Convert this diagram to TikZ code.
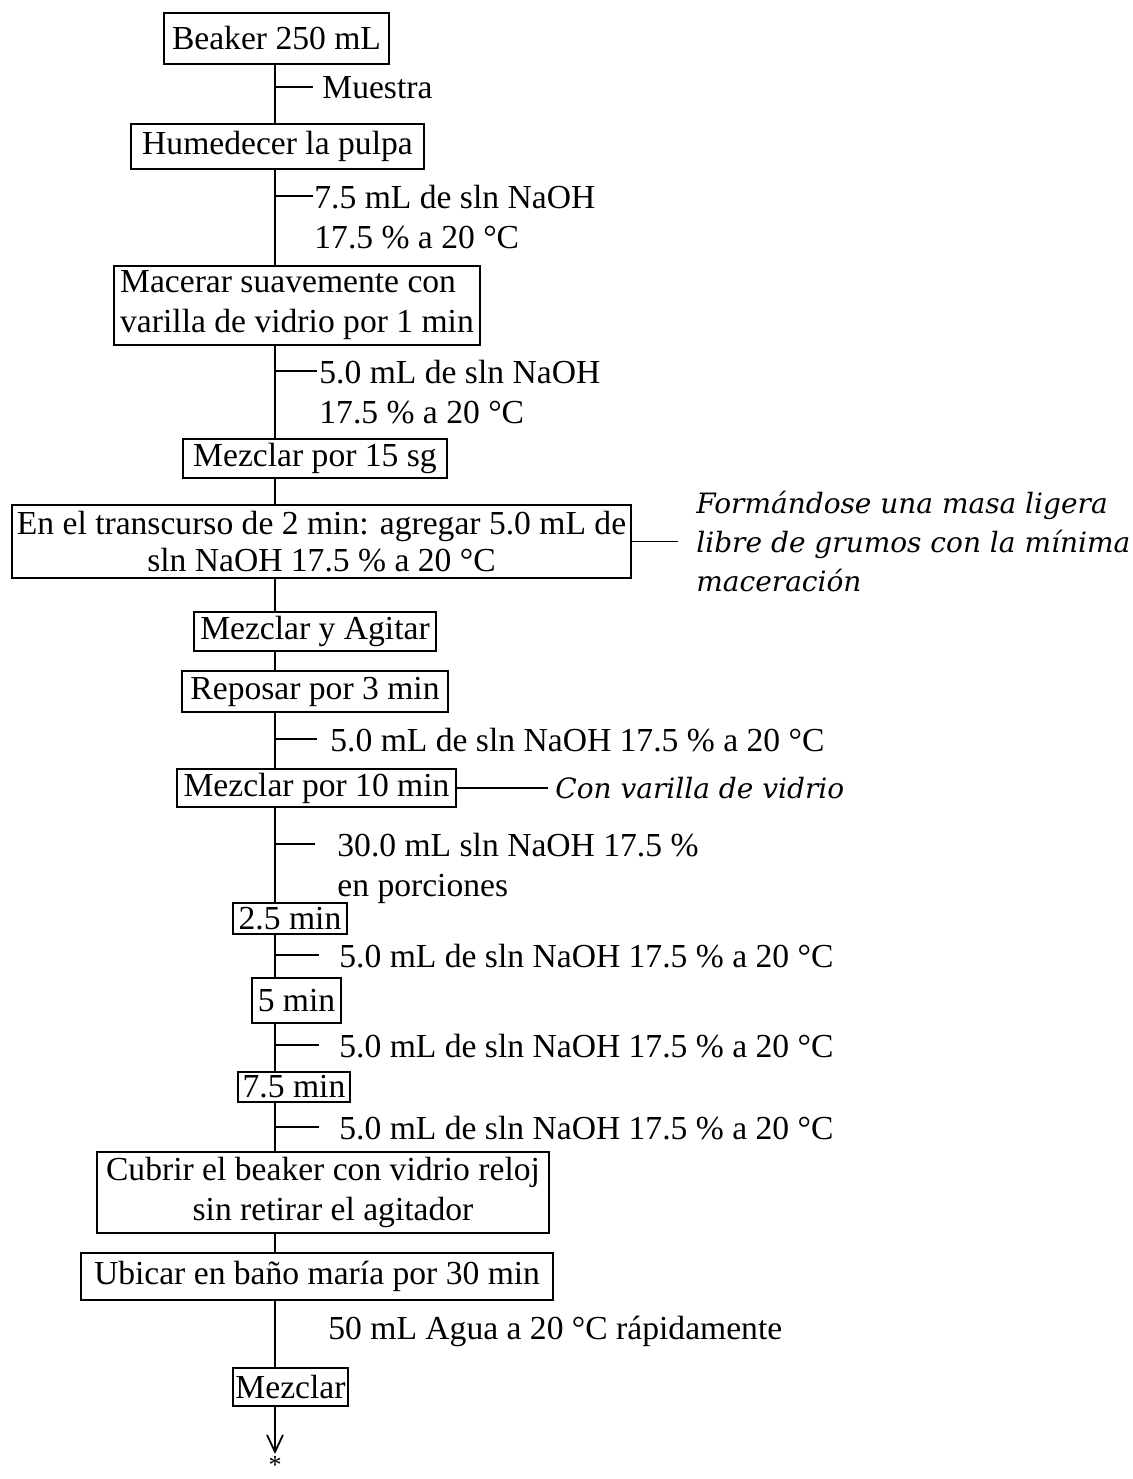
\documentclass[tikz,border=0pt]{standalone}
\usepackage{fontspec}
\setmainfont{Liberation Serif}
\newfontfamily\notefont{DejaVu Serif}
\usetikzlibrary{arrows.meta, positioning}

\begin{document}
\begin{tikzpicture}[
  font=\fontsize{16.8pt}{20pt}\selectfont,
  box/.style={
    rectangle, draw, line width=0.9pt,
    inner sep=0pt, outer sep=0pt, align=center
  },
  reagent/.style={inner ysep=0pt, inner xsep=0pt, align=left},
  note/.style={
    font=\notefont\itshape\fontsize{14pt}{19.5pt}\selectfont,
    align=left, inner ysep=0pt
  },
  link/.style={line width=0.9pt},
  endarrow/.style={-{Straight Barb[length=8.5pt, width=8pt]}, line width=0.9pt}
]
\useasboundingbox (0,0) rectangle (566.5pt,-739.5pt);

% ── Main sequence ──
\node[box, minimum width=112.5pt, minimum height=25.5pt] (beaker) at (138.25pt,-19.25pt) {Beaker 250 mL};
\coordinate (spine) at (137.5pt,0);

\node[box, minimum width=146.5pt, minimum height=22.5pt, below=30pt of beaker, xshift=0.5pt] (humedecer) {Humedecer la pulpa};
\node[box, align=left, minimum width=183pt, minimum height=39.5pt, below=48.5pt of humedecer, xshift=9.75pt] (macerar) {Macerar suavemente con\\varilla de vidrio por 1 min};
\node[box, minimum width=132pt, minimum height=19.5pt, below=47pt of macerar, xshift=9pt] (mezclarA) {Mezclar por 15 sg};
\node[box, minimum width=309.5pt, minimum height=36.5pt, below=13.5pt of mezclarA, xshift=3.25pt,
  font=\fontsize{16.8pt}{18.5pt}\selectfont] (transcurso) {En el transcurso de 2 min: agregar 5.0 mL de\\sln NaOH 17.5 \% a 20 °C};
\node[box, minimum width=121pt, minimum height=19.5pt, below=17pt of transcurso, xshift=-3.25pt] (agitar) {Mezclar y Agitar};
\node[box, minimum width=133pt, minimum height=20.5pt, below=10pt of agitar] (reposar) {Reposar por 3 min};
\node[box, minimum width=139.5pt, minimum height=19pt, below=28.5pt of reposar, xshift=0.75pt] (mezclarB) {Mezclar por 10 min};

% ── Portions ──
\node[box, minimum width=57pt, minimum height=15.5pt, below=48pt of mezclarB, xshift=-13.25pt] (dos) {2.5 min};
\node[box, minimum width=44.5pt, minimum height=22.5pt, below=22pt of dos, xshift=3.25pt] (cinco) {5 min};
\node[box, minimum width=56pt, minimum height=15pt, below=24.5pt of cinco, xshift=-1.25pt] (siete) {7.5 min};

% ── Closing steps ──
\node[box, minimum width=226pt, minimum height=40.5pt, below=25pt of siete, xshift=14.5pt] (cubrir) {Cubrir el beaker con vidrio reloj\\\hspace*{10pt}sin retirar el agitador};
\node[box, minimum width=236pt, minimum height=23.5pt, below=10pt of cubrir, xshift=-3pt] (ubicar) {Ubicar en baño maría por 30 min};
\node[box, minimum width=57.5pt, minimum height=19pt, below=34pt of ubicar, xshift=-13.25pt] (mezclarC) {Mezclar};
\node[inner sep=0pt, font=\fontsize{13pt}{13pt}\selectfont, below=25pt of mezclarC, xshift=-7.75pt] (fin) {*};

% ── Tick points on the spine ──
\path (beaker.south -| spine) ++(0,-11.5pt) coordinate (t1);
\path (humedecer.south -| spine) ++(0,-13.5pt) coordinate (t2);
\path (macerar.south -| spine) ++(0,-13pt) coordinate (t3);
\path (reposar.south -| spine) ++(0,-13.5pt) coordinate (t4);
\path (mezclarB.south -| spine) ++(0,-18.5pt) coordinate (t5);
\path (dos.south -| spine) ++(0,-10.5pt) coordinate (t6);
\path (cinco.south -| spine) ++(0,-11pt) coordinate (t7);
\path (siete.south -| spine) ++(0,-12.5pt) coordinate (t8);
\path (ubicar.south -| spine) ++(0,-13.5pt) coordinate (t9);

% ── Reagents ──
\node[reagent, right=19pt of t1, anchor=north west, yshift=5.7pt, inner xsep=4.5pt] (r1) {Muestra};
\node[reagent, right=19pt of t2, anchor=north west, yshift=5.7pt, inner xsep=0.5pt] (r2) {7.5 mL de sln NaOH\\17.5 \% a 20 °C};
\node[reagent, right=21pt of t3, anchor=north west, yshift=5.7pt, inner xsep=1pt] (r3) {5.0 mL de sln NaOH\\17.5 \% a 20 °C};
\node[reagent, right=21pt of t4, anchor=north west, yshift=5.7pt, inner xsep=6.5pt] (r4) {5.0 mL de sln NaOH 17.5 \% a 20 °C};
\node[reagent, right=20pt of t5, anchor=north west, yshift=5.7pt, inner xsep=11pt] (r5) {30.0 mL sln NaOH 17.5 \%\\en porciones};
\node[reagent, right=22pt of t6, anchor=north west, yshift=5.7pt, inner xsep=10pt] (r6) {5.0 mL de sln NaOH 17.5 \% a 20 °C};
\node[reagent, right=22pt of t7, anchor=north west, yshift=5.7pt, inner xsep=10pt] (r7) {5.0 mL de sln NaOH 17.5 \% a 20 °C};
\node[reagent, right=22pt of t8, anchor=north west, yshift=5.7pt, inner xsep=10pt] (r8) {5.0 mL de sln NaOH 17.5 \% a 20 °C};
\node[reagent, right=26.5pt of t9, anchor=north west, yshift=5.7pt] (r9) {50 mL Agua a 20 °C rápidamente};

% ── Notes ──
\node[note, right=23.5pt of transcurso, inner xsep=9pt] (nota1) {Formándose una masa ligera\\libre de grumos con la mínima\\maceración};
\node[note, right=46pt of mezclarB, inner xsep=3.5pt] (nota2) {Con varilla de vidrio};

% ── Spine ──
\draw[link] (beaker.south -| spine) -- (humedecer.north -| spine);
\draw[link] (humedecer.south -| spine) -- (macerar.north -| spine);
\draw[link] (macerar.south -| spine) -- (mezclarA.north -| spine);
\draw[link] (mezclarA.south -| spine) -- (transcurso.north -| spine);
\draw[link] (transcurso.south -| spine) -- (agitar.north -| spine);
\draw[link] (agitar.south -| spine) -- (reposar.north -| spine);
\draw[link] (reposar.south -| spine) -- (mezclarB.north -| spine);
\draw[link] (mezclarB.south -| spine) -- (dos.north -| spine);
\draw[link] (dos.south -| spine) -- (cinco.north -| spine);
\draw[link] (cinco.south -| spine) -- (siete.north -| spine);
\draw[link] (siete.south -| spine) -- (cubrir.north -| spine);
\draw[link] (cubrir.south -| spine) -- (ubicar.north -| spine);
\draw[link] (ubicar.south -| spine) -- (mezclarC.north -| spine);
\draw[endarrow, shorten >=1pt] (mezclarC.south -| spine) -- (fin);

% ── Ticks ──
\draw[link] (t1) -- (t1 -| r1.west);
\draw[link] (t2) -- (t2 -| r2.west);
\draw[link] (t3) -- (t3 -| r3.west);
\draw[link] (t4) -- (t4 -| r4.west);
\draw[link] (t5) -- (t5 -| r5.west);
\draw[link] (t6) -- (t6 -| r6.west);
\draw[link] (t7) -- (t7 -| r7.west);
\draw[link] (t8) -- (t8 -| r8.west);

% ── Note links ──
\draw[link] (transcurso) -- (nota1);
\draw[link] (mezclarB) -- (nota2);

\end{tikzpicture}
\end{document}
